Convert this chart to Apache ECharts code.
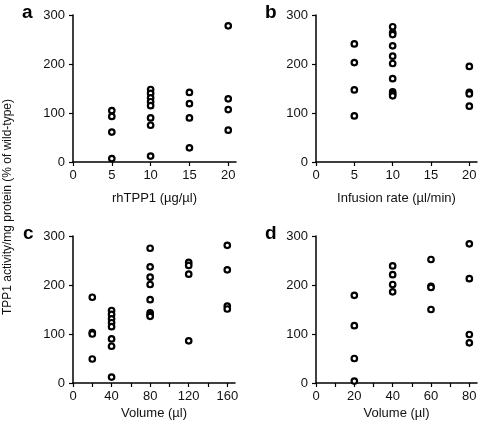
<!DOCTYPE html>
<html>
<head>
<meta charset="utf-8">
<script src="https://cdn.jsdelivr.net/npm/echarts@6/dist/echarts.min.js"></script>
<style>html,body{margin:0;padding:0;background:#fff;}#c{width:480px;height:424px;}</style>
</head>
<body>
<div id="c"></div>
<script>
// Panel a: rhTPP1 concentration (µg/µl)
const aX = [5, 10, 15, 20];
const aValues = [
  [105, 93, 61, 7],
  [148, 140, 131, 123, 115, 90, 75, 12],
  [142, 119, 90, 29],
  [278, 129, 107, 65]
];
// Panel b: infusion rate (µl/min)
const bX = [5, 10, 20];
const bValues = [
  [241, 203, 147, 94],
  [276, 264, 260, 237, 216, 201, 170, 143, 139, 135],
  [195, 142, 139, 114]
];
// Panel c: volume (µl)
const cX = [20, 40, 80, 120, 160];
const cValues = [
  [175, 103, 100, 49],
  [148, 140, 131, 123, 115, 90, 75, 12],
  [275, 237, 216, 201, 170, 143, 139, 136],
  [246, 240, 222, 86],
  [281, 231, 157, 151]
];
// Panel d: volume (µl)
const dX = [20, 40, 60, 80];
const dValues = [
  [179, 117, 50, 4],
  [239, 221, 201, 186],
  [252, 197, 195, 150],
  [284, 213, 99, 82]
];

const yTicks = [0, 100, 200, 300];
const aTicks = [0, 5, 10, 15, 20], aLabels = [0, 5, 10, 15, 20];
const bTicks = [0, 5, 10, 15, 20], bLabels = [0, 5, 10, 15, 20];
const cTicks = [0, 20, 40, 60, 80, 100, 120, 140, 160], cLabels = [0, 40, 80, 120, 160];
const dTicks = [0, 10, 20, 30, 40, 50, 60, 70, 80], dLabels = [0, 20, 40, 60, 80];

const names = ['rhTPP1 (µg/µl)', 'Infusion rate (µl/min)', 'Volume (µl)', 'Volume (µl)'];
const yTitle = 'TPP1 activity/mg protein (% of wild-type)';
const letters = ['a', 'b', 'c', 'd'];

function pts(xs, vals) {
  const out = [];
  xs.forEach((x, i) => vals[i].forEach(v => out.push([x, v])));
  return out;
}

const FONT = '"Liberation Sans", Arial, Helvetica, sans-serif';
const grids = [
  {left: 73, top: 15, width: 163, height: 147},
  {left: 316, top: 15, width: 161, height: 147},
  {left: 73, top: 236, width: 162, height: 147},
  {left: 316, top: 236, width: 161, height: 147}
];
const xMax = [21, 21, 168, 84];
const tickSets = [aTicks, bTicks, cTicks, dTicks];
const labelSets = [aLabels, bLabels, cLabels, dLabels];
const nameGaps = [30, 30, 24, 24];
const datasets = [pts(aX, aValues), pts(bX, bValues), pts(cX, cValues), pts(dX, dValues)];

const axisLine = {show: true, onZero: false, lineStyle: {color: '#000', width: 1.5}};
const chart = echarts.init(document.getElementById('c'), null, {renderer: 'canvas'});
chart.setOption({
  animation: false,
  backgroundColor: '#fff',
  grid: grids,
  xAxis: grids.map((g, i) => ({
    type: 'value', gridIndex: i, min: 0, max: xMax[i],
    axisLine: axisLine,
    axisTick: {show: true, length: 4, lineStyle: {color: '#000', width: 1.2}, customValues: tickSets[i]},
    axisLabel: {color: '#111', fontSize: 13, fontFamily: FONT, margin: 7, customValues: labelSets[i]},
    splitLine: {show: false},
    name: names[i], nameLocation: 'middle', nameGap: nameGaps[i],
    nameTextStyle: {color: '#111', fontSize: 13, fontFamily: FONT}
  })),
  yAxis: grids.map((g, i) => ({
    type: 'value', gridIndex: i, min: 0, max: 300, interval: 100,
    axisLine: axisLine,
    axisTick: {show: true, length: 4, lineStyle: {color: '#000', width: 1.2}, customValues: yTicks},
    axisLabel: {color: '#111', fontSize: 13, fontFamily: FONT, margin: 8, customValues: yTicks},
    splitLine: {show: false}
  })),
  series: datasets.map((d, i) => ({
    type: 'scatter', xAxisIndex: i, yAxisIndex: i, data: d,
    symbol: 'circle', symbolSize: 5.5,
    itemStyle: {color: '#fff', borderColor: '#000', borderWidth: 2.2, opacity: 1}
  })),
  graphic: [
    {type: 'text', x: 8, y: 207, rotation: Math.PI / 2,
     style: {text: yTitle, fill: '#111', font: '12px ' + FONT, textAlign: 'center', textVerticalAlign: 'middle'}},
    {type: 'text', x: 22, y: 12.5, style: {text: letters[0], fill: '#000', font: 'bold 19px ' + FONT, textAlign: 'left', textVerticalAlign: 'middle'}},
    {type: 'text', x: 265, y: 12.5, style: {text: letters[1], fill: '#000', font: 'bold 19px ' + FONT, textAlign: 'left', textVerticalAlign: 'middle'}},
    {type: 'text', x: 23, y: 233.5, style: {text: letters[2], fill: '#000', font: 'bold 19px ' + FONT, textAlign: 'left', textVerticalAlign: 'middle'}},
    {type: 'text', x: 265, y: 234, style: {text: letters[3], fill: '#000', font: 'bold 19px ' + FONT, textAlign: 'left', textVerticalAlign: 'middle'}}
  ]
});
</script>
</body>
</html>
